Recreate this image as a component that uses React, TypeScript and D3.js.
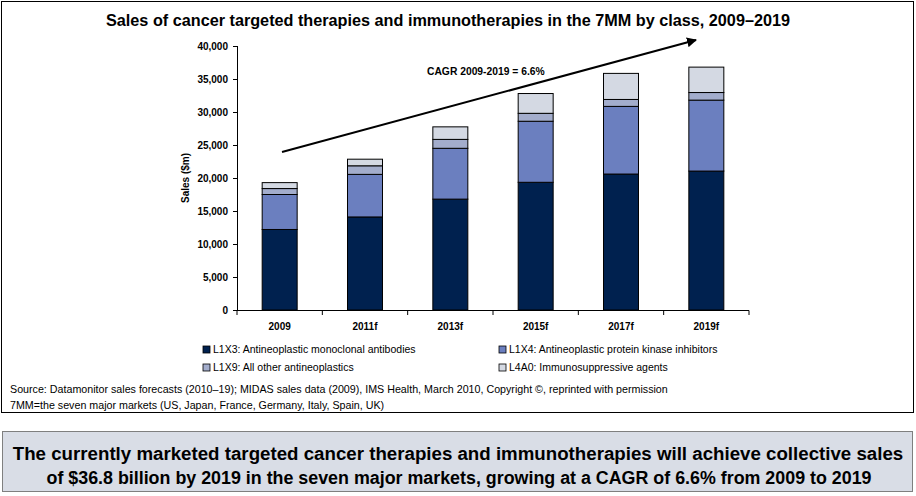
import React, { useLayoutEffect, useRef, useState } from 'react';
import * as d3 from 'd3';

// categories and series (sales, $m)
const years = ['2009', '2011f', '2013f', '2015f', '2017f', '2019f'];
const l1x3 = [12200, 14100, 16800, 19350, 20600, 21050];
const l1x4 = [5300, 6450, 7700, 9250, 10250, 10750];
const l1x9 = [900, 1300, 1350, 1200, 1050, 1150];
const l4a0 = [900, 1000, 1900, 3000, 3950, 3850];
const yTicks = [0, 5000, 10000, 15000, 20000, 25000, 30000, 35000, 40000];

const seriesNames = [
  'L1X3: Antineoplastic monoclonal antibodies',
  'L1X4: Antineoplastic protein kinase inhibitors',
  'L1X9: All other antineoplastics',
  'L4A0: Immunosuppressive agents',
];
const colors = ['#00214f', '#6b7fbf', '#a3adcc', '#d4d9e3'];

const boxLines = [
  'The currently marketed targeted cancer therapies and immunotherapies will achieve collective sales',
  'of $36.8 billion by 2019 in the seven major markets, growing at a CAGR of 6.6% from 2009 to 2019',
];
const boxWidths = [890, 825];

export default function App() {
  const line1 = useRef<SVGTextElement>(null);
  const line2 = useRef<SVGTextElement>(null);
  const [sx, setSx] = useState([0.86, 0.86]);

  // squeeze the summary text horizontally, like the narrow font in the original
  useLayoutEffect(() => {
    const refs = [line1, line2];
    const next = refs.map((r, i) => {
      const w = r.current ? r.current.getComputedTextLength() : 0;
      return w > 0 ? boxWidths[i] / w : 0.86;
    });
    setSx(next);
  }, []);

  // scales
  const x = d3.scaleBand<string>()
    .domain(years)
    .range([237, 749])
    .paddingInner(0.59)
    .paddingOuter(0.295);
  const y = d3.scaleLinear().domain([0, 40000]).range([310, 46]);

  const rows = years.map((yr, i) => ({ year: yr, a: l1x3[i], b: l1x4[i], c: l1x9[i], d: l4a0[i] }));
  const stacked = d3.stack<any>().keys(['a', 'b', 'c', 'd'])(rows);

  const fmt = d3.format(',');
  const step = x.step();
  const boundaries = d3.range(years.length + 1).map(i => 237 + i * step);

  const font = 'Liberation Sans, Arial, sans-serif';

  return (
    <svg width={916} height={496} style={{ position: 'absolute', left: 0, top: 0, fontFamily: font }}>
      <rect x={0} y={0} width={916} height={496} fill="#fff" />
      {/* chart frame */}
      <rect x={1.5} y={1.5} width={912} height={411} fill="none" stroke="#000" strokeWidth={1} />

      <text x={448} y={26} textAnchor="middle" fontSize={16} fontWeight="bold" textLength={684} lengthAdjust="spacingAndGlyphs">
        Sales of cancer targeted therapies and immunotherapies in the 7MM by class, 2009–2019
      </text>

      {/* y axis */}
      <line x1={237.5} x2={237.5} y1={y(40000)} y2={y(0)} stroke="#000" />
      {yTicks.map(t => (
        <g key={t}>
          <line x1={233} x2={237.5} y1={y(t) + 0.5} y2={y(t) + 0.5} stroke="#000" />
          <text x={228} y={y(t) + 3.5} textAnchor="end" fontSize={10} fontWeight="bold">{fmt(t)}</text>
        </g>
      ))}
      <text transform="translate(189,178) rotate(-90)" textAnchor="middle" fontSize={10} fontWeight="bold">Sales ($m)</text>

      {/* bars */}
      {stacked.map((s, si) => (
        <g key={si} fill={colors[si]} stroke="#000" strokeWidth={1}>
          {s.map((d, i) => (
            <rect key={i} x={x(years[i])!} y={y(d[1])} width={x.bandwidth()} height={y(d[0]) - y(d[1])} />
          ))}
        </g>
      ))}

      {/* x axis */}
      <line x1={237} x2={749} y1={310.5} y2={310.5} stroke="#000" />
      {boundaries.map((b, i) => (
        <line key={i} x1={b} x2={b} y1={310.5} y2={315} stroke="#000" />
      ))}
      {years.map(yr => (
        <text key={yr} x={x(yr)! + x.bandwidth() / 2} y={330} textAnchor="middle" fontSize={10} fontWeight="bold">{yr}</text>
      ))}

      {/* CAGR arrow */}
      <defs>
        <marker id="ah" viewBox="0 0 10 10" refX={9} refY={5} markerWidth={5} markerHeight={5} orient="auto">
          <path d="M0,0 L10,5 L0,10 z" fill="#000" />
        </marker>
      </defs>
      <line x1={282} y1={152} x2={696} y2={40} stroke="#000" strokeWidth={2} markerEnd="url(#ah)" />
      <text x={427} y={75} fontSize={10.3} fontWeight="bold">CAGR 2009-2019 = 6.6%</text>

      {/* legend */}
      {seriesNames.map((n, i) => {
        const lx = i % 2 === 0 ? 203 : 499;
        const ly = i < 2 ? 350 : 368;
        return (
          <g key={n}>
            <rect x={lx} y={ly - 4} width={7} height={7} fill={colors[i]} stroke="#000" strokeWidth={0.8} />
            <text x={lx + 10} y={ly + 3} fontSize={10.5}>{n}</text>
          </g>
        );
      })}

      {/* source notes */}
      <text x={10} y={393} fontSize={10.7}>
        Source: Datamonitor sales forecasts (2010–19); MIDAS sales data (2009), IMS Health, March 2010, Copyright ©, reprinted with permission
      </text>
      <text x={10} y={409} fontSize={10.7}>7MM=the seven major markets (US, Japan, France, Germany, Italy, Spain, UK)</text>

      {/* summary box */}
      <rect x={2.5} y={431.5} width={910} height={60} fill="#d9dde6" stroke="#7f7f7f" strokeWidth={1} />
      <g transform={`translate(458,460) scale(${sx[0]},1)`}>
        <text ref={line1} x={0} y={0} textAnchor="middle" fontSize={19} fontWeight="bold">{boxLines[0]}</text>
      </g>
      <g transform={`translate(459,484) scale(${sx[1]},1)`}>
        <text ref={line2} x={0} y={0} textAnchor="middle" fontSize={19} fontWeight="bold">{boxLines[1]}</text>
      </g>
    </svg>
  );
}
